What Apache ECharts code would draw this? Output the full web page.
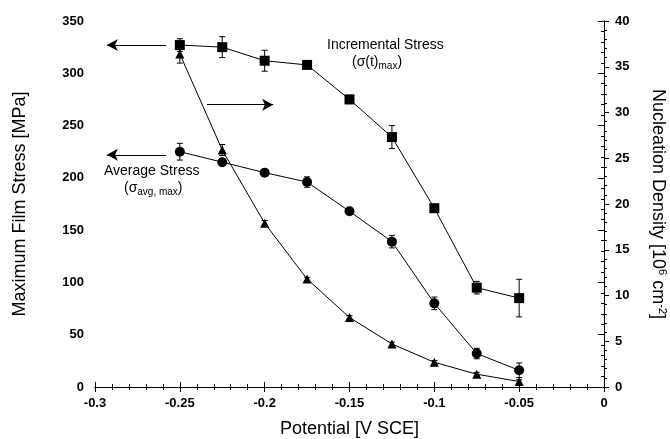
<!DOCTYPE html>
<html>
<head>
<meta charset="utf-8">
<script src="https://cdn.jsdelivr.net/npm/echarts@6/dist/echarts.min.js"></script>
<style>
  html, body { margin: 0; padding: 0; background: #fff; }
  #chart { width: 670px; height: 439px; }
</style>
</head>
<body>
<div id="chart"></div>
<script>
// values
const potential = [-0.25, -0.225, -0.2, -0.175, -0.15, -0.125, -0.1, -0.075, -0.05]
const incStress = [327, 325, 312, 308, 275, 239, 171, 95, 85]
const incErr = [6, 10, 10, 2, 4, 11, 2, 6, 18]
const avgStress = [225, 215, 205, 196, 168, 139, 80, 32, 16]
const avgErr = [8, 3, 2, 5, 3, 6, 6, 5, 7]
const nucDensity = [36.4, 25.9, 17.9, 11.8, 7.6, 4.7, 2.7, 1.4, 0.6]
const nucErr = [1.0, 0.6, 0.3, 0.2, 0.2, 0.2, 0.2, 0.2, 0.2]

// arrows pointing at the axis each curve belongs to (data coords)
const arrows = [
  [[-0.258, 327], [-0.293, 327]],
  [[-0.258, 222], [-0.293, 222]],
  [[-0.234, 270], [-0.195, 270]]
]

const font = '"Liberation Sans", Arial, sans-serif'

function pairs(xs, ys) {
  return xs.map((x, i) => [x, ys[i]])
}
function errRows(xs, ys, es) {
  return xs.map((x, i) => [x, ys[i] - es[i], ys[i] + es[i]])
}

// draws vertical error bar with caps
function errBar(params, api) {
  const x = api.value(0)
  const lo = api.coord([x, api.value(1)])
  const hi = api.coord([x, api.value(2)])
  const w = 3
  const st = { stroke: '#000', lineWidth: 1 }
  return {
    type: 'group',
    children: [
      { type: 'line', shape: { x1: lo[0], y1: lo[1], x2: hi[0], y2: hi[1] }, style: st },
      { type: 'line', shape: { x1: lo[0] - w, y1: lo[1], x2: lo[0] + w, y2: lo[1] }, style: st },
      { type: 'line', shape: { x1: hi[0] - w, y1: hi[1], x2: hi[0] + w, y2: hi[1] }, style: st }
    ]
  }
}

const axisTxt = { color: '#000', fontFamily: font, fontSize: 13, fontWeight: 'bold' }
const nameTxt = { color: '#000', fontFamily: font, fontSize: 18 }

var chart = echarts.init(document.getElementById('chart'))

chart.setOption({
  backgroundColor: '#fff',
  animation: false,
  grid: { left: 95, right: 66, top: 21, bottom: 52, outerBoundsMode: 'none', containLabel: false },
  xAxis: [
    {
      type: 'value', min: -0.3, max: 0, interval: 0.05,
      axisLine: { lineStyle: { color: '#000', width: 1 } },
      axisTick: { show: true, length: 5, lineStyle: { color: '#000' } },
      minorTick: { show: true, splitNumber: 5, length: 3, lineStyle: { color: '#000' } },
      splitLine: { show: false },
      axisLabel: Object.assign({ margin: 10, formatter: v => (v === 0 ? '0' : String(+v.toFixed(2))) }, axisTxt),
      name: 'Potential [V SCE]', nameLocation: 'middle', nameGap: 33,
      nameTextStyle: nameTxt
    },
    {
      type: 'value', position: 'top', min: -0.3, max: 0, interval: 0.05,
      axisLine: { lineStyle: { color: '#000', width: 1 } },
      axisTick: { show: true, length: 5, lineStyle: { color: '#000' } },
      minorTick: { show: true, splitNumber: 5, length: 3, lineStyle: { color: '#000' } },
      splitLine: { show: false },
      axisLabel: { show: false }
    }
  ],
  yAxis: [
    {
      type: 'value', min: 0, max: 350, interval: 50,
      axisLine: { show: true, lineStyle: { color: '#000', width: 1 } },
      axisTick: { show: true, length: 6, lineStyle: { color: '#000' } },
      minorTick: { show: true, splitNumber: 5, length: 3, lineStyle: { color: '#000' } },
      splitLine: { show: false },
      axisLabel: Object.assign({ margin: 11 }, axisTxt),
      name: 'Maximum Film Stress [MPa]', nameLocation: 'middle', nameGap: 66, nameRotate: 90,
      nameTextStyle: nameTxt
    },
    {
      type: 'value', min: 0, max: 40, interval: 5, position: 'right',
      axisLine: { show: true, lineStyle: { color: '#000', width: 1 } },
      axisTick: { show: true, length: 5, lineStyle: { color: '#000' } },
      minorTick: { show: true, splitNumber: 5, length: 3, lineStyle: { color: '#000' } },
      splitLine: { show: false },
      axisLabel: Object.assign({ margin: 11 }, axisTxt),
      name: '{a|Nucleation Density [10}{sup|6}{a| cm}{sup|-2}{a|]}',
      nameLocation: 'middle', nameGap: 44, nameRotate: -90,
      nameTextStyle: {
        color: '#000', fontFamily: font, fontSize: 18,
        rich: {
          a: { color: '#000', fontFamily: font, fontSize: 18 },
          sup: { color: '#000', fontFamily: font, fontSize: 11, padding: [0, 0, 9, 0] }
        }
      }
    }
  ],
  series: [
    {
      name: 'Incremental Stress', type: 'line', data: pairs(potential, incStress),
      symbol: 'rect', symbolSize: 10,
      lineStyle: { color: '#000', width: 1 }, itemStyle: { color: '#000' },
      z: 5,
      markLine: {
        silent: true, symbol: ['none', 'arrow'], symbolSize: [9, 11],
        label: { show: false },
        lineStyle: { color: '#000', width: 1.2, type: 'solid' },
        data: arrows.map(a => [{ coord: a[0] }, { coord: a[1] }])
      }
    },
    {
      name: 'Average Stress', type: 'line', data: pairs(potential, avgStress),
      symbol: 'circle', symbolSize: 10,
      lineStyle: { color: '#000', width: 1 }, itemStyle: { color: '#000' },
      z: 5
    },
    {
      name: 'Nucleation Density', type: 'line', yAxisIndex: 1, data: pairs(potential, nucDensity),
      symbol: 'triangle', symbolSize: 9,
      lineStyle: { color: '#000', width: 1 }, itemStyle: { color: '#000' },
      z: 5
    },
    { type: 'custom', renderItem: errBar, data: errRows(potential, incStress, incErr), z: 4 },
    { type: 'custom', renderItem: errBar, data: errRows(potential, avgStress, avgErr), z: 4 },
    { type: 'custom', renderItem: errBar, yAxisIndex: 1, data: errRows(potential, nucDensity, nucErr), z: 4 }
  ],
  graphic: [
    {
      type: 'text', left: 327, top: 38,
      style: { text: 'Incremental Stress', fill: '#000', font: '14px ' + font }
    },
    {
      type: 'text', left: 352, top: 55,
      style: {
        text: '(σ(t){sub|max})', fill: '#000', font: '14px ' + font,
        rich: { sub: { fontSize: 10, fontFamily: font, fill: '#000', padding: [9, 0, 0, 0] } }
      }
    },
    {
      type: 'text', left: 104, top: 164,
      style: { text: 'Average Stress', fill: '#000', font: '14px ' + font }
    },
    {
      type: 'text', left: 124, top: 181,
      style: {
        text: '(σ{sub|avg, max})', fill: '#000', font: '14px ' + font,
        rich: { sub: { fontSize: 10, fontFamily: font, fill: '#000', padding: [9, 0, 0, 0] } }
      }
    }
  ]
})
</script>
</body>
</html>
